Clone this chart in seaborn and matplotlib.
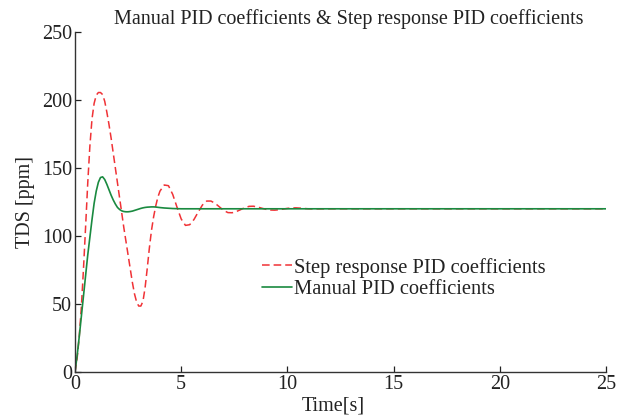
import numpy as np
import pandas as pd
import matplotlib
matplotlib.use("Agg")
import matplotlib.pyplot as plt
import seaborn as sns

# Time samples [s]
time_step = [0.0, 0.1, 0.2, 0.3, 0.4, 0.5, 0.6, 0.7, 0.8, 0.9,
             1.0, 1.1, 1.2, 1.3, 1.4, 1.5, 1.6, 1.7, 1.8, 1.9,
             2.0, 2.1, 2.2, 2.3, 2.4, 2.5, 2.6, 2.7, 2.8, 2.9,
             3.0, 3.1, 3.2, 3.3, 3.4, 3.5, 3.6, 3.7, 3.8, 3.9,
             4.0, 4.2, 4.4, 4.6, 4.8, 5.0, 5.2, 5.4, 5.6, 5.8,
             6.0, 6.2, 6.4, 6.6, 6.8, 7.0, 7.2, 7.4, 7.6, 7.8,
             8.0, 8.2, 8.4, 8.6, 8.8, 9.0, 9.2, 9.4, 9.6, 9.8,
             10.0, 10.2, 10.4, 10.6, 10.8, 11.0, 11.2, 12.0, 25.0]

# Step response PID coefficients (TDS ppm)
tds_step = [0, 10, 26, 48, 76, 107, 139, 166, 186, 197.5,
            203.5, 205.5, 205.5, 204, 199, 191, 182, 172, 161, 150,
            139, 128, 117, 106, 96, 86, 76, 66, 57.5, 51.5,
            48.5, 48.5, 52, 62, 76, 91, 104, 114, 122, 128.5,
            133, 137.5, 137, 130.6, 121.3, 112.5, 107.8, 108.3, 112.1, 117.6,
            122.8, 125.7, 125.7, 124, 121.4, 118.8, 117.2, 117.1, 118, 119.4,
            120.9, 121.8, 121.9, 121.3, 120.4, 119.6, 119.1, 119.0, 119.3, 119.8,
            120.3, 120.6, 120.7, 120.5, 120.2, 120.0, 119.9, 120.0, 120.0]

time_manual = [0.0, 0.1, 0.2, 0.3, 0.4, 0.5, 0.6, 0.7, 0.8, 0.9,
               1.0, 1.1, 1.2, 1.3, 1.4, 1.5, 1.6, 1.7, 1.8, 1.9,
               2.0, 2.1, 2.2, 2.3, 2.4, 2.5, 2.6, 2.7, 2.8, 2.9,
               3.0, 3.1, 3.2, 3.3, 3.4, 3.5, 3.6, 3.7, 3.8, 3.9,
               4.0, 4.2, 4.4, 4.6, 4.8, 5.0, 25.0]

# Manual PID coefficients (TDS ppm)
tds_manual = [0, 12, 26, 41, 56, 71, 86, 99, 112, 124,
              133, 139.5, 143, 143.5, 141.5, 138, 134, 130, 126.5, 123.5,
              121, 119.5, 118.5, 118, 117.8, 117.8, 118, 118.3, 118.8, 119.3,
              119.8, 120.3, 120.7, 121, 121.2, 121.3, 121.4, 121.4, 121.3, 121.1,
              120.9, 120.6, 120.4, 120.2, 120.1, 120.0, 120.0]

x_ticks = [0, 5, 10, 15, 20, 25]
y_ticks = [0, 50, 100, 150, 200, 250]

sns.set_theme(style="ticks")
plt.rcParams['font.family'] = ['Liberation Serif', 'DejaVu Serif']

fig = plt.figure(figsize=(6.21, 4.17), dpi=100)
ax = fig.add_axes([75/621, 1 - 372/417, (606 - 75)/621, (372 - 32)/417])

red = "#f03236"
green = "#1a8a40"

sns.lineplot(x=time_step, y=tds_step, ax=ax, color=red, linewidth=1.1,
             linestyle=(0, (5, 2.6)), label="Step response PID coefficients")
sns.lineplot(x=time_manual, y=tds_manual, ax=ax, color=green, linewidth=1.2,
             label="Manual PID coefficients")

ax.set_xlim(0, 25)
ax.set_ylim(0, 250)
ax.set_xticks(x_ticks)
ax.set_yticks(y_ticks)
ax.tick_params(direction="in", length=4, width=0.9, labelsize=14.5, colors="#222222", pad=2)
for s in ["top", "right"]:
    ax.spines[s].set_visible(False)
for s in ["left", "bottom"]:
    ax.spines[s].set_linewidth(1.0)
    ax.spines[s].set_color("#333333")

ax.set_xlabel("Time[s]", fontsize=14.5, color="#222222", labelpad=2)
ax.xaxis.label.set_x(0.487)
ax.set_ylabel("TDS [ppm]", fontsize=14.5, color="#222222", labelpad=5)
ax.set_title("Manual PID coefficients & Step response PID coefficients",
             fontsize=14.5, color="#222222", pad=6)
ax.title.set_x(0.515)

leg = ax.legend(loc="center left", bbox_to_anchor=(0.352, 0.275), frameon=False,
                fontsize=14.8, handlelength=1.45, handletextpad=0.12,
                labelspacing=0.12, borderpad=0, borderaxespad=0)
for t in leg.get_texts():
    t.set_color("#222222")

fig.savefig("out.png", dpi=100)
